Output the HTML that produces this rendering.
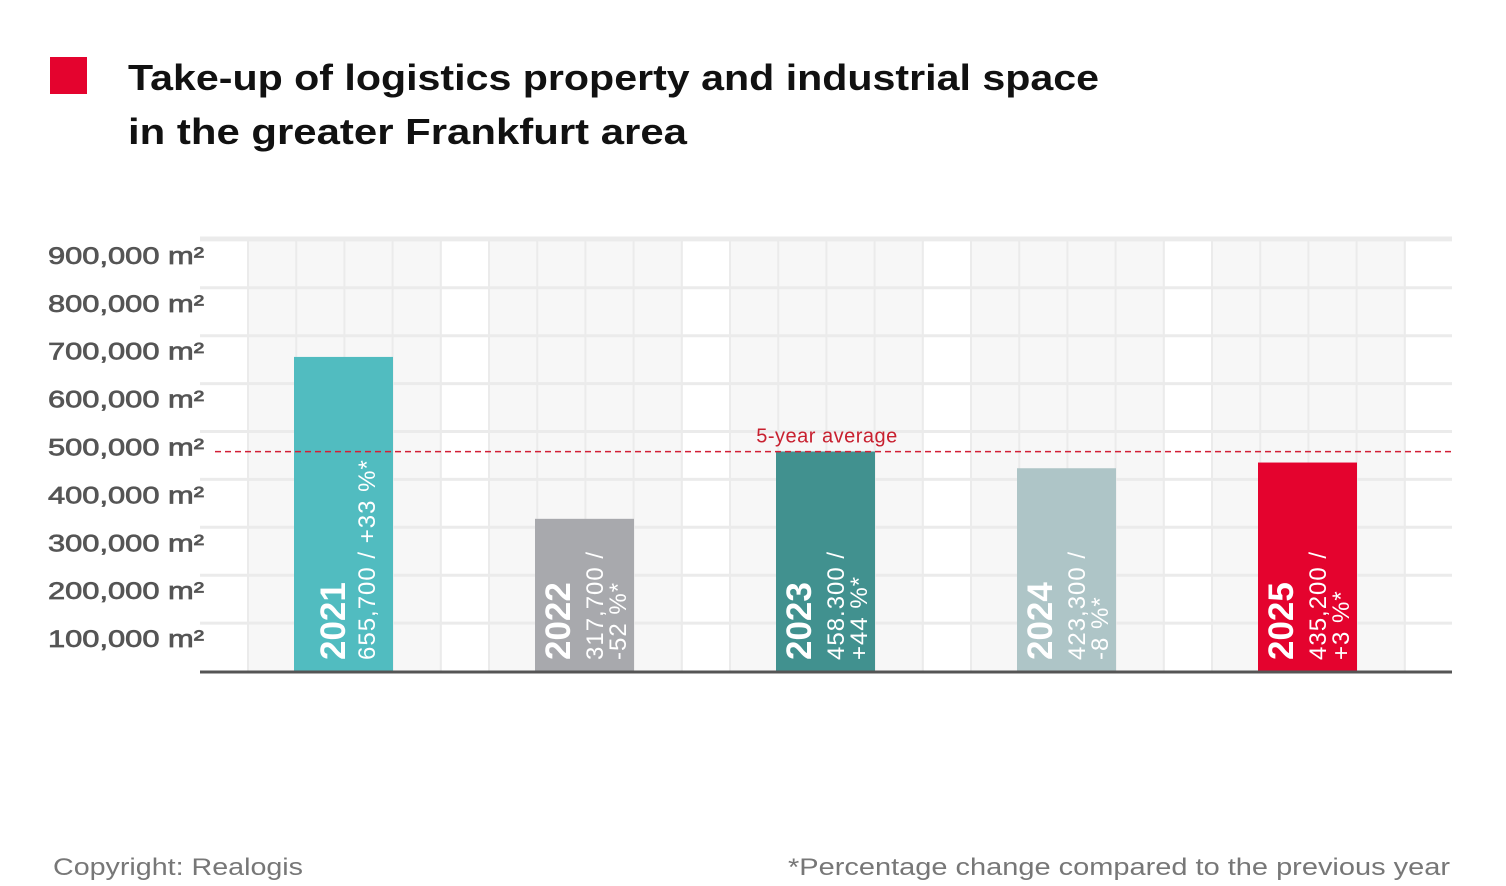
<!DOCTYPE html>
<html><head><meta charset="utf-8"><style>
body{margin:0;background:#fff;}
svg{display:block;font-family:"Liberation Sans",sans-serif;}
</style></head><body>
<svg id="c" width="1506" height="886" viewBox="0 0 1506 886">
<rect x="50" y="57" width="37" height="37" fill="#e4032e"/>
<text x="128" y="90" font-size="36" font-weight="bold" fill="#111" textLength="971" lengthAdjust="spacingAndGlyphs">Take-up of logistics property and industrial space</text>
<text x="128" y="144" font-size="36" font-weight="bold" fill="#111" textLength="559" lengthAdjust="spacingAndGlyphs">in the greater Frankfurt area</text>
<g id="grid"></g>
<g id="bars"></g>
<text x="53" y="875" font-size="24" fill="#777" textLength="250" lengthAdjust="spacingAndGlyphs">Copyright: Realogis</text>
<text x="1450" y="875" font-size="24" fill="#777" text-anchor="end" textLength="662" lengthAdjust="spacingAndGlyphs">*Percentage change compared to the previous year</text>
</svg>
<script>
const years = ["2021","2022","2023","2024","2025"];
const values = [655700, 317700, 458300, 423300, 435200];
const valueLines = [["655,700 / +33 %*"],["317,700 /","-52 %*"],["458.300 /","+44 %*"],["423,300 /","-8 %*"],["435,200 /","+3 %*"]];
const barColors = ["#51bcc0","#a8a9ad","#41918f","#aec5c7","#e4032e"];
const yTicks = [100000,200000,300000,400000,500000,600000,700000,800000,900000];
const yTickLabels = ["100,000 m²","200,000 m²","300,000 m²","400,000 m²","500,000 m²","600,000 m²","700,000 m²","800,000 m²","900,000 m²"];

const NS="http://www.w3.org/2000/svg";
const base=671, pxPer=47.9/100000;
function y(v){return base - v*pxPer;}
function x(i){return 294 + i*241;}
const barW=99;
function mk(tag,attrs,parent){const e=document.createElementNS(NS,tag);for(const k in attrs)e.setAttribute(k,attrs[k]);parent.appendChild(e);return e;}
const grid=document.getElementById('grid'), bars=document.getElementById('bars');
for(let g=0;g<5;g++){
  const r=mk('rect',{x:248+g*241,y:238,width:194,height:433,fill:'#f7f7f7'},grid);
  
  
}
for(let k=0;k<25;k++){
  const xx=248+k*48.2;
  mk('line',{x1:xx,x2:xx,y1:238,y2:671,stroke:'#ebebeb','stroke-width':2},grid);
}
mk('line',{x1:200,x2:1452,y1:238,y2:238,stroke:'#ebebeb','stroke-width':3},grid);
yTicks.forEach((t,i)=>{
  const yy=y(t);
  const l=mk('line',{x1:200,x2:1452,y1:yy,y2:yy,stroke:'#ebebeb','stroke-width':3},grid);
  
  
  const tx=mk('text',{x:204,y:yy+24,'font-size':24,fill:'#555',stroke:'#555','stroke-width':0.7,'text-anchor':'end',textLength:156,lengthAdjust:'spacingAndGlyphs'},grid);
  tx.textContent=yTickLabels[i];
  
  
});
values.forEach((v,i)=>{
  const r=mk('rect',{x:x(i),y:y(v),width:barW,height:base-y(v),fill:barColors[i]},bars);
  
  
  const cx=x(i);
  const ls=valueLines[i];
  const yOff = ls.length===1 ? 51 : 35;
  const yr=mk('text',{transform:`translate(${cx+yOff},660) rotate(-90)`,'font-size':35,'font-weight':'bold',fill:'#fff'},bars);
  yr.textContent=years[i];
  
  
  ls.forEach((s,j)=>{
    const off = ls.length===1 ? 81 : 68+j*23;
    const t=mk('text',{transform:`translate(${cx+off},660) rotate(-90)`,'font-size':24,'letter-spacing':1,fill:'#fff'},bars);
    t.textContent=s;
    
    
  });
});
const avg=values.reduce((a,b)=>a+b,0)/values.length;
const al=mk('line',{x1:215,x2:1452,y1:y(avg),y2:y(avg),stroke:'#d21f36','stroke-width':1.5,'stroke-dasharray':'6,4'},bars);


const at=mk('text',{x:827,y:y(avg)-9,'font-size':20,'letter-spacing':0.5,fill:'#c8202f','text-anchor':'middle'},bars);
at.textContent='5-year average';


const ax=mk('line',{x1:200,x2:1452,y1:672,y2:672,stroke:'#555','stroke-width':3},bars);


</script>
</body></html>
